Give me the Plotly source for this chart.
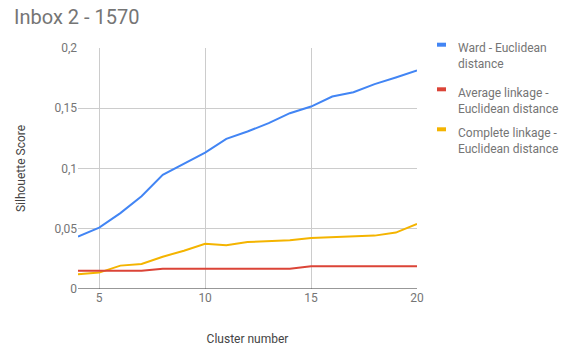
import plotly.graph_objects as go

# Silhouette score per cluster count for three hierarchical clustering setups
clusters = list(range(4, 21))
ward = [0.0434, 0.051, 0.063, 0.077, 0.0947, 0.104, 0.1132, 0.1246, 0.1307, 0.1376,
        0.1459, 0.1514, 0.1597, 0.1633, 0.170, 0.1755, 0.1813]
average = [0.0152, 0.0152, 0.0152, 0.0152, 0.0169, 0.0169, 0.0169, 0.0169, 0.0169, 0.0169,
           0.0169, 0.0188, 0.0189, 0.0189, 0.0189, 0.0189, 0.0189]
complete = [0.0122, 0.0136, 0.0194, 0.0208, 0.0268, 0.0318, 0.0376, 0.0363, 0.039, 0.0399,
            0.0404, 0.0424, 0.0432, 0.0435, 0.0443, 0.0468, 0.054]

series_names = ["Ward - Euclidean<br>distance",
                "Average linkage -<br>Euclidean distance",
                "Complete linkage -<br>Euclidean distance"]
series_colors = ["#4285F4", "#DB4437", "#F4B400"]

y_ticks = [0, 0.05, 0.1, 0.15, 0.2]
y_tick_text = ["0", "0,05", "0,1", "0,15", "0,2"]
x_ticks = [5, 10, 15, 20]

W, H = 577, 347
L, R, T, B = 78, 160, 48, 58
pw, ph = W - L - R, H - T - B

fig = go.Figure()
# draw order: yellow, red, blue on top
for vals, col in [(complete, series_colors[2]), (average, series_colors[1]), (ward, series_colors[0])]:
    fig.add_trace(go.Scatter(x=clusters, y=vals, mode="lines",
                             line=dict(color=col, width=2), showlegend=False,
                             hoverinfo="skip"))

grey = "#757575"
font = "Roboto, Arial, sans-serif"

# hand-placed legend (short thick swatch + wrapped label)
def px_x(p):
    return (p - L) / pw

def px_y(p):
    return (H - B - p) / ph

legend_rows = [44.7, 89.3, 129.3]
shapes = []
annotations = []
for name, col, yrow in zip(series_names, series_colors, legend_rows):
    shapes.append(dict(type="line", xref="paper", yref="paper",
                       x0=px_x(437), x1=px_x(446), y0=px_y(yrow), y1=px_y(yrow),
                       line=dict(color=col, width=4)))
    annotations.append(dict(xref="paper", yref="paper", x=px_x(455.5), y=px_y(yrow - 5.5),
                            xanchor="left", yanchor="top", align="left",
                            text=name, showarrow=False,
                            font=dict(family=font, size=12, color=grey)))

fig.update_layout(
    width=W, height=H,
    margin=dict(l=L, r=R, t=T, b=B, autoexpand=False),
    paper_bgcolor="white", plot_bgcolor="white",
    title=dict(text="Inbox 2 - 1570", x=14 / W, xanchor="left", y=1 - 17 / H, yanchor="middle",
               font=dict(family=font, size=20, color=grey)),
    xaxis=dict(range=[4, 20], tickvals=x_ticks, showgrid=True, gridcolor="#CCCCCC",
               zeroline=False, showline=False, ticks="", automargin=False,
               tickfont=dict(family=font, size=12, color=grey),
               title=dict(text="Cluster number", font=dict(family=font, size=12, color="#444444"),
                          standoff=30)),
    yaxis=dict(range=[0, 0.2], tickvals=y_ticks, ticktext=y_tick_text, showgrid=True,
               gridcolor="#CCCCCC", zeroline=False, showline=False, ticks="", automargin=False,
               tickfont=dict(family=font, size=12, color=grey),
               title=dict(text="Silhouette Score", font=dict(family=font, size=12, color="#444444"),
                          standoff=26)),
    shapes=shapes + [dict(type="line", xref="paper", yref="y", x0=0, x1=1, y0=0, y1=0,
                          line=dict(color="#333333", width=1.2))],
    annotations=annotations,
)

fig.write_html("out.html")
